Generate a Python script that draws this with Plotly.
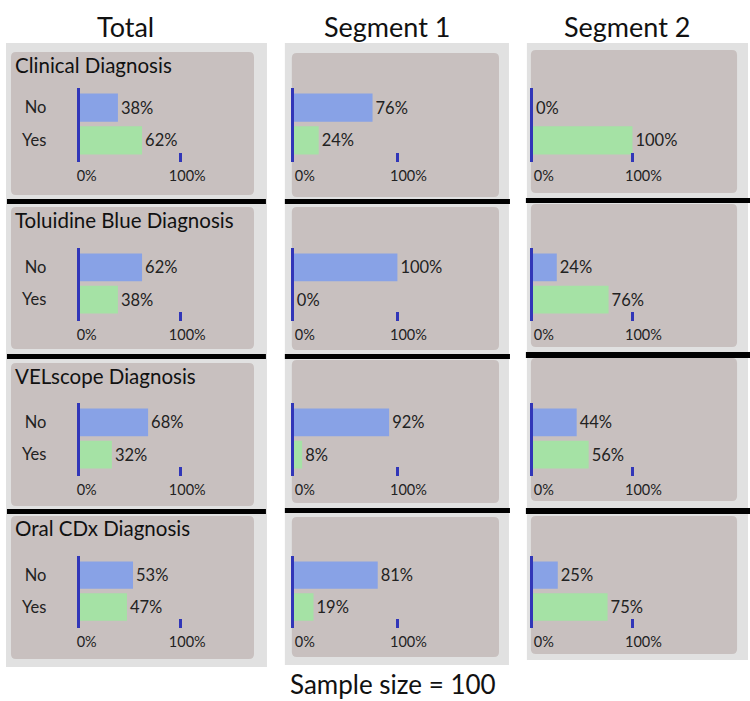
import plotly.graph_objects as go

# ---------------- data ----------------
categories = ["No", "Yes"]
tests = ["Clinical Diagnosis", "Toluidine Blue Diagnosis", "VELscope Diagnosis", "Oral CDx Diagnosis"]
segments = ["Total", "Segment 1", "Segment 2"]
no_total = [38, 62, 68, 53]
yes_total = [62, 38, 32, 47]
no_seg1 = [76, 100, 92, 81]
yes_seg1 = [24, 0, 8, 19]
no_seg2 = [0, 24, 44, 25]
yes_seg2 = [100, 76, 56, 75]
tick_vals = [0, 100]
tick_text = ["0%", "100%"]
sample_note = "Sample size = 100"

values = [(no_total, yes_total), (no_seg1, yes_seg1), (no_seg2, yes_seg2)]

# ---------------- layout geometry (pixels) ----------------
W, H = 750, 701
FONT = "Lato"
BLUE = "#88a2e6"
GREEN = "#a5e2a5"
AXIS = "#3136b8"
PANEL = "#c8c0bf"
COLBG = "#e1e1e1"

col_bg = [(3, 265, 43, 667), (283, 508, 43, 665), (526, 748, 43, 660)]
panel_x = [(8, 252), (290, 498), (530, 737)]
panel_y = [
    [(52, 195), (207, 349), (363, 506), (516, 659)],
    [(53, 197), (207, 350), (360, 503), (517, 657)],
    [(50, 193), (204, 347), (358, 501), (516, 654)],
]
sep_x = [(4, 264), (283, 509), (525, 750)]
sep_y = [
    [(199, 204), (354, 359), (509, 514)],
    [(199, 204), (354, 359), (508, 513)],
    [(198, 203), (352, 358), (508, 514)],
]
axis_x0 = [77, 292, 532]
axis_x100 = [178, 396, 632]
axis_y = [(88, 162), (248, 321), (403, 476), (556, 628)]
title_y = [65, 220, 376, 528]
col_title_x = [123, 386, 627]
tick_shift = [7, 11, 11]


def px(x):
    return x / W


def py(y):
    return 1 - y / H


def rounded(x0, x1, y0, y1, r=5):
    rx, ry = r / W, r / H
    X0, X1 = px(x0), px(x1)
    Y0, Y1 = py(y0), py(y1)  # Y0 top (larger), Y1 bottom
    return (f"M {X0+rx},{Y0} L {X1-rx},{Y0} Q {X1},{Y0} {X1},{Y0-ry} "
            f"L {X1},{Y1+ry} Q {X1},{Y1} {X1-rx},{Y1} L {X0+rx},{Y1} "
            f"Q {X0},{Y1} {X0},{Y1+ry} L {X0},{Y0-ry} Q {X0},{Y0} {X0+rx},{Y0} Z")


fig = go.Figure()
shapes = []
annotations = []
layout = {}

for c in range(3):
    x0, x1, y0, y1 = col_bg[c]
    shapes.append(dict(type="rect", xref="paper", yref="paper", x0=px(x0), x1=px(x1),
                       y0=py(y1), y1=py(y0), fillcolor=COLBG, line=dict(width=0), layer="below"))
    for r in range(4):
        a, b = panel_y[c][r]
        shapes.append(dict(type="path", xref="paper", yref="paper",
                           path=rounded(panel_x[c][0], panel_x[c][1], a, b),
                           fillcolor=PANEL, line=dict(width=0), layer="below"))
    for (a, b) in sep_y[c]:
        shapes.append(dict(type="rect", xref="paper", yref="paper", x0=px(sep_x[c][0]), x1=px(sep_x[c][1]),
                           y0=py(b), y1=py(a), fillcolor="black", line=dict(width=0), layer="below"))
    annotations.append(dict(text=segments[c], x=px(col_title_x[c]), y=py(27), xref="paper", yref="paper",
                            xanchor="center", yanchor="middle", showarrow=False,
                            font=dict(family=FONT, size=27, color="#111")))

for r in range(4):
    annotations.append(dict(text=tests[r], x=px(10), y=py(title_y[r]), xref="paper", yref="paper",
                            xanchor="left", yanchor="middle", showarrow=False,
                            font=dict(family=FONT, size=20.5, color="#111")))

annotations.append(dict(text=sample_note, x=px(392), y=py(684), xref="paper", yref="paper",
                        xanchor="center", yanchor="middle", showarrow=False,
                        font=dict(family=FONT, size=26, color="#111")))

idx = 0
for r in range(4):
    for c in range(3):
        idx += 1
        xs = "" if idx == 1 else str(idx)
        no_vals, yes_vals = values[c]
        vals = [no_vals[r], yes_vals[r]]
        fig.add_trace(go.Bar(
            x=vals, y=categories, orientation="h",
            marker=dict(color=[BLUE, GREEN], line=dict(width=0)),
            width=0.86,
            text=[f"{v}%" for v in vals], textposition="outside",
            textfont=dict(family=FONT, size=16.5, color="#222"),
            constraintext="none", cliponaxis=False,
            xaxis="x" + xs, yaxis="y" + xs, showlegend=False, hoverinfo="skip"))
        left = axis_x0[c]
        right = panel_x[c][1] - 4
        xmax = 100 * (right - left) / (axis_x100[c] - left)
        ta, tb = axis_y[r]
        layout["xaxis" + xs] = dict(
            domain=[px(left), px(right)], range=[0, xmax], anchor="y" + xs,
            showgrid=False, zeroline=False, showline=False,
            tickmode="array", tickvals=tick_vals, ticktext=tick_text,
            ticks="inside", ticklen=9, tickwidth=3, tickcolor=AXIS,
            ticklabelshift=tick_shift[c], ticklabelstandoff=3,
            tickfont=dict(family=FONT, size=14.5, color="#222"), fixedrange=True)
        layout["yaxis" + xs] = dict(
            domain=[py(tb), py(ta)], range=[1 + 21.5 / 32.5, -19.5 / 32.5], anchor="x" + xs,
            type="category", categoryorder="array", categoryarray=categories,
            showgrid=False, zeroline=False, showline=True, linewidth=3, linecolor=AXIS,
            ticks="", showticklabels=(c == 0), ticklabelstandoff=27,
            tickfont=dict(family=FONT, size=16.5, color="#222"), fixedrange=True)

fig.update_layout(
    width=W, height=H, autosize=False,
    margin=dict(l=0, r=0, t=0, b=0),
    paper_bgcolor="white", plot_bgcolor="rgba(0,0,0,0)",
    shapes=shapes, annotations=annotations,
    **layout)

fig.write_html("out.html")
